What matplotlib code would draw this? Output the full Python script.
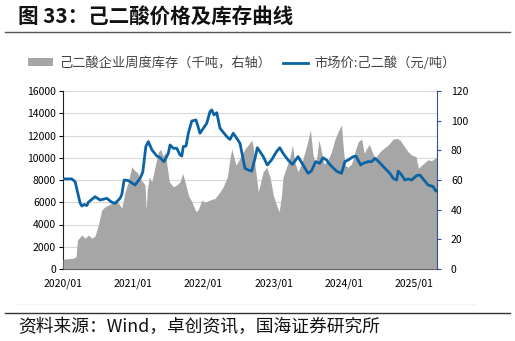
import matplotlib
matplotlib.use('Agg')
import matplotlib.pyplot as plt
import matplotlib.dates as mdates
from matplotlib.patches import Patch
from matplotlib.lines import Line2D
import pandas as pd

plt.rcParams['font.family'] = ['Noto Sans CJK SC', 'DejaVu Sans']

# 市场价:己二酸（元/吨）
price_dates = [
    '2020-01-02', '2020-02-15', '2020-03-04', '2020-03-30', '2020-04-08', '2020-04-20',
    '2020-05-04', '2020-05-12', '2020-06-16', '2020-07-12', '2020-08-16', '2020-09-11',
    '2020-09-28', '2020-10-24', '2020-11-02', '2020-11-14', '2020-12-06', '2021-01-10',
    '2021-02-05', '2021-02-19', '2021-03-07', '2021-03-20', '2021-04-08', '2021-05-03',
    '2021-05-20', '2021-06-10', '2021-07-02', '2021-07-11', '2021-07-28', '2021-08-15',
    '2021-09-01', '2021-09-10', '2021-09-18', '2021-10-02', '2021-10-14', '2021-11-01',
    '2021-11-23', '2021-12-14', '2021-12-31', '2022-01-18', '2022-02-04', '2022-02-13',
    '2022-02-25', '2022-03-11', '2022-03-28', '2022-05-02', '2022-05-19', '2022-06-05',
    '2022-06-23', '2022-07-10', '2022-07-27', '2022-08-05', '2022-08-22', '2022-09-09',
    '2022-09-26', '2022-10-08', '2022-10-22', '2022-11-08', '2022-11-29', '2022-12-21',
    '2023-01-16', '2023-02-02', '2023-02-19', '2023-03-17', '2023-04-09', '2023-05-08',
    '2023-06-03', '2023-06-29', '2023-07-16', '2023-08-08', '2023-08-29', '2023-09-15',
    '2023-10-03', '2023-10-20', '2023-11-24', '2023-12-20', '2024-01-07', '2024-01-24',
    '2024-02-19', '2024-03-04', '2024-03-29', '2024-04-11', '2024-05-07', '2024-05-25',
    '2024-06-11', '2024-06-28', '2024-08-02', '2024-08-28', '2024-09-14', '2024-10-02',
    '2024-10-10', '2024-10-28', '2024-11-14', '2024-12-01', '2024-12-19', '2025-01-14',
    '2025-01-31', '2025-02-21', '2025-03-15', '2025-04-10', '2025-04-24', '2025-04-30',
]
price = [
    8100, 8100, 7850, 5930, 5660, 5800,
    5700, 6000, 6500, 6200, 6350, 6000,
    5900, 6350, 6700, 8000, 7950, 7550,
    8150, 8700, 11000, 11450, 10700, 10160,
    10000, 9650, 10400, 11150, 10850, 10850,
    10250, 10150, 11000, 11050, 12200, 13300,
    13400, 12200, 12650, 13100, 14150, 14300,
    13850, 14050, 12650, 11900, 11650, 12200,
    11750, 11300, 9800, 9050, 8900, 8800,
    9950, 10900, 10550, 10100, 9350, 9800,
    10550, 10900, 10400, 9800, 9400, 10100,
    9350, 8600, 8800, 9650, 9500, 10000,
    9800, 9400, 8800, 8600, 9650, 9800,
    10100, 10150, 9350, 9500, 9650, 9650,
    9950, 9700, 9050, 8600, 8150, 8000,
    8800, 8450, 8000, 8100, 8000, 8400,
    8450, 8000, 7550, 7400, 7000, 7050,
]

# 己二酸企业周度库存（千吨）
stock_dates = [
    '2020-01-01', '2020-02-23', '2020-03-09', '2020-03-16', '2020-04-08', '2020-04-25',
    '2020-05-12', '2020-05-30', '2020-06-16', '2020-07-03', '2020-07-21', '2020-08-07',
    '2020-08-24', '2020-09-19', '2020-10-07', '2020-10-24', '2020-11-02', '2020-11-10',
    '2020-11-19', '2020-12-06', '2020-12-24', '2021-01-05', '2021-01-22', '2021-02-05',
    '2021-02-19', '2021-03-03', '2021-03-08', '2021-03-15', '2021-03-25', '2021-04-07',
    '2021-04-24', '2021-05-11', '2021-05-24', '2021-06-06', '2021-06-15', '2021-06-27',
    '2021-07-07', '2021-07-28', '2021-08-15', '2021-09-01', '2021-09-15', '2021-09-27',
    '2021-10-14', '2021-11-01', '2021-11-23', '2021-12-05', '2021-12-23', '2022-01-09',
    '2022-02-04', '2022-03-02', '2022-03-28', '2022-04-14', '2022-05-05', '2022-05-19',
    '2022-05-28', '2022-06-05', '2022-06-19', '2022-07-01', '2022-07-19', '2022-08-05',
    '2022-08-22', '2022-09-09', '2022-09-17', '2022-09-26', '2022-10-13', '2022-10-22',
    '2022-11-08', '2022-11-26', '2022-12-13', '2022-12-30', '2023-01-16', '2023-01-30',
    '2023-02-11', '2023-02-19', '2023-03-09', '2023-03-26', '2023-04-09', '2023-04-21',
    '2023-05-08', '2023-05-26', '2023-06-21', '2023-07-11', '2023-07-25', '2023-08-08',
    '2023-08-25', '2023-09-07', '2023-09-19', '2023-10-06', '2023-10-29', '2023-11-15',
    '2023-12-02', '2023-12-20', '2023-12-28', '2024-01-07', '2024-01-24', '2024-02-11',
    '2024-02-28', '2024-03-16', '2024-04-03', '2024-04-16', '2024-04-28', '2024-05-12',
    '2024-05-25', '2024-06-11', '2024-07-07', '2024-07-24', '2024-08-19', '2024-09-14',
    '2024-10-02', '2024-10-19', '2024-11-06', '2024-12-01', '2024-12-19', '2025-01-11',
    '2025-01-23', '2025-02-10', '2025-02-27', '2025-03-15', '2025-04-02', '2025-04-19',
    '2025-04-30',
]
stock = [
    6.7, 7.2, 8.3, 19.5, 22.9, 20.7,
    22.9, 20.7, 22.3, 29.7, 39.8, 42.0,
    43.0, 45.0, 46.0, 42.7, 41.0, 46.5,
    52.0, 58.8, 69.0, 66.7, 65.0, 61.0,
    58.8, 56.6, 39.8, 54.0, 62.0, 58.8,
    69.0, 79.0, 80.6, 75.7, 79.0, 67.9,
    58.8, 55.5, 56.6, 58.8, 64.5, 58.8,
    49.9, 45.4, 38.6, 40.0, 46.5, 45.0,
    46.5, 47.6, 52.0, 55.5, 62.0, 74.6,
    81.0, 77.0, 70.0, 72.5, 77.0, 81.0,
    83.6, 87.0, 82.0, 70.0, 52.0, 56.6,
    65.6, 68.6, 62.0, 49.9, 43.0, 38.6,
    49.9, 62.0, 68.6, 75.0, 83.6, 72.0,
    65.6, 71.0, 82.4, 93.7, 77.0, 70.0,
    87.0, 79.0, 71.0, 72.0, 79.0, 87.0,
    92.5, 97.0, 83.6, 70.0, 68.6, 71.0,
    79.0, 85.8, 87.6, 78.0, 81.0, 84.0,
    80.0, 74.6, 79.0, 81.0, 83.6, 87.6,
    88.0, 87.0, 83.6, 79.0, 76.8, 75.7,
    67.9, 70.0, 72.0, 73.6, 73.0, 74.6,
    75.7,
]

left_ticks = list(range(0, 16001, 2000))
right_ticks = list(range(0, 121, 20))
year_ticks = ['2020-01-01', '2021-01-01', '2022-01-01', '2023-01-01', '2024-01-01', '2025-01-01']

price_x = pd.to_datetime(price_dates)
stock_x = pd.to_datetime(stock_dates)

LINE_BLUE = '#0b63a5'
AREA_GRAY = '#a6a6a6'
NAVY = '#2f4f8f'

fig = plt.figure(figsize=(5.15, 3.41), dpi=100)

# 标题与分隔线
fig.text(18 / 515, 1 - 17 / 341, '图 33：己二酸价格及库存曲线', fontsize=14.8,
         fontweight='bold', va='center', ha='left', color='#111111')
fig.add_artist(plt.Line2D([5 / 515, 510 / 515], [1 - 32 / 341] * 2, color='#555555', lw=1.0))
fig.add_artist(plt.Line2D([5 / 515, 510 / 515], [1 - 313 / 341] * 2, color='#333333', lw=1.0))
fig.add_artist(plt.Line2D([15 / 515, 475 / 515], [1 - 304 / 341] * 2, color='#f2f2f2', lw=0.8))
fig.text(18 / 515, 1 - 327 / 341, '资料来源：Wind，卓创资讯，国海证券研究所', fontsize=12.8,
         va='center', ha='left', color='#111111')

rect = [63 / 515, 72 / 341, 374 / 515, 178 / 341]
ax = fig.add_axes(rect)            # 左轴：网格与刻度
ax2 = ax.twinx()                   # 右轴：库存面积
ax3 = ax.twinx()                   # 价格曲线置于最上层

x_start = pd.Timestamp('2020-01-01')
x_end = pd.Timestamp('2025-04-30')
for a in (ax, ax2, ax3):
    a.set_xlim(x_start, x_end)

ax.set_ylim(0, 16000)
ax.set_yticks(left_ticks)
ax.grid(axis='y', color='#d9d9d9', lw=0.8)
ax.set_axisbelow(True)

ax2.fill_between(stock_x, stock, 0, color=AREA_GRAY, lw=0)
ax2.set_ylim(0, 120)
ax2.set_yticks(right_ticks)

ax3.plot(price_x, price, color=LINE_BLUE, lw=2.0, solid_joinstyle='round')
ax3.set_ylim(0, 16000)
ax3.set_yticks([])
for s in ax3.spines.values():
    s.set_visible(False)

ax.set_xticks(pd.to_datetime(year_ticks))
ax.xaxis.set_major_formatter(mdates.DateFormatter('%Y/%m'))
ax.tick_params(axis='x', direction='in', length=3, width=0.8, labelsize=7.5, pad=7)
ax.tick_params(axis='y', direction='out', length=3, width=0.8, labelsize=7.5, pad=2)
ax2.tick_params(axis='y', direction='out', length=3, width=0.8, color=NAVY, labelsize=7.5, pad=7)
ax2.tick_params(axis='x', bottom=False, labelbottom=False)
ax3.tick_params(axis='x', bottom=False, labelbottom=False)

for a in (ax, ax2):
    a.spines['top'].set_visible(False)
ax.spines['right'].set_visible(False)
ax2.spines['left'].set_visible(False)
ax2.spines['bottom'].set_visible(False)
ax2.spines['right'].set_color(NAVY)
ax.spines['left'].set_color('#222222')
ax.spines['bottom'].set_color('#222222')

# 图例
handles = [Patch(color=AREA_GRAY, lw=0), Line2D([], [], color=LINE_BLUE, lw=2.0)]
labels = ['己二酸企业周度库存（千吨，右轴）', '市场价:己二酸（元/吨）']
fig.legend(handles, labels, loc='center left', bbox_to_anchor=(28 / 515, 1 - 63 / 341),
           ncol=2, frameon=False, fontsize=9.5, handlelength=1.9, handleheight=0.5,
           handletextpad=0.45, columnspacing=0.9, labelcolor='#444444',
           borderpad=0, borderaxespad=0)

fig.savefig('out.png', dpi=100)
